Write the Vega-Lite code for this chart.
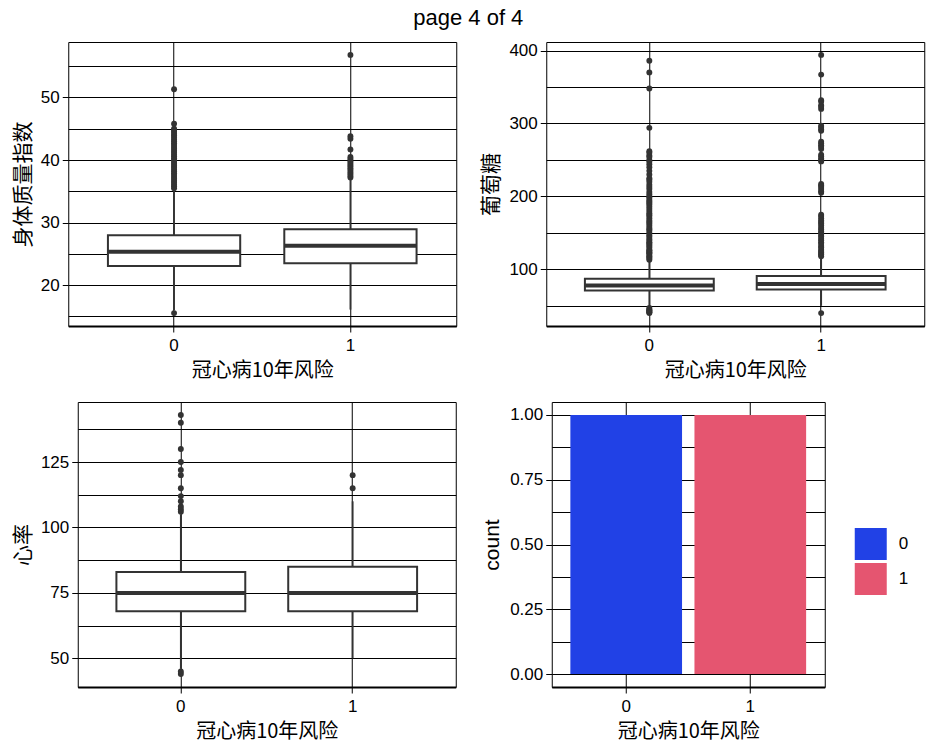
{
  "$schema": "https://vega.github.io/schema/vega-lite/v6.json",
  "background": "white",
  "padding": {"left": 11, "top": 7, "right": 5, "bottom": 5},
  "title": {"text": "page 4 of 4", "font": "Liberation Sans", "fontSize": 22, "fontWeight": "normal", "color": "black", "anchor": "middle", "offset": 11},
  "config": {
    "view": {"stroke": "black", "strokeWidth": 1},
    "axis": {"gridColor": "black", "gridWidth": 1, "gridOpacity": 1, "domain": false, "tickColor": "black", "tickSize": 6, "tickWidth": 1, "tickCount": 30, "labelColor": "black", "labelFont": "Liberation Sans", "labelFontSize": 17, "titleFont": "Noto Sans CJK SC", "titleFontSize": 21, "titleFontWeight": "normal", "titleColor": "black", "labelPadding": 3, "titlePadding": 7, "labelOverlap": false},
    "axisX": {"domain": true, "domainColor": "black", "domainWidth": 2, "labelPadding": 5, "titlePadding": 7, "titleFontSize": 20, "labelAngle": 0, "grid": true, "bandPosition": 0.5}
  },
  "datasets": {
    "bmi_stats": [
      {"risk": "0", "lower": 16.0, "q1": 23.05, "median": 25.35, "q3": 28.0, "upper": 35.4},
      {"risk": "1", "lower": 16.1, "q1": 23.5, "median": 26.3, "q3": 28.95, "upper": 37.0}
    ],
    "bmi_out": [
      {"risk": "0", "value": 15.54}, {"risk": "0", "value": 35.5}, {"risk": "0", "value": 35.8}, {"risk": "0", "value": 36.1}, {"risk": "0", "value": 36.4}, {"risk": "0", "value": 36.7}, {"risk": "0", "value": 37.0}, {"risk": "0", "value": 37.3}, {"risk": "0", "value": 37.6}, {"risk": "0", "value": 37.9}, {"risk": "0", "value": 38.2}, {"risk": "0", "value": 38.5}, {"risk": "0", "value": 38.8}, {"risk": "0", "value": 39.1}, {"risk": "0", "value": 39.4}, {"risk": "0", "value": 39.7}, {"risk": "0", "value": 40.0}, {"risk": "0", "value": 40.3}, {"risk": "0", "value": 40.6}, {"risk": "0", "value": 40.9}, {"risk": "0", "value": 41.2}, {"risk": "0", "value": 41.5}, {"risk": "0", "value": 41.8}, {"risk": "0", "value": 42.1}, {"risk": "0", "value": 42.4}, {"risk": "0", "value": 42.7}, {"risk": "0", "value": 43.0}, {"risk": "0", "value": 43.3}, {"risk": "0", "value": 43.6}, {"risk": "0", "value": 43.9}, {"risk": "0", "value": 44.2}, {"risk": "0", "value": 44.5}, {"risk": "0", "value": 44.8}, {"risk": "0", "value": 45.0}, {"risk": "0", "value": 45.8}, {"risk": "0", "value": 51.3},
      {"risk": "1", "value": 37.2}, {"risk": "1", "value": 37.5}, {"risk": "1", "value": 37.8}, {"risk": "1", "value": 38.1}, {"risk": "1", "value": 38.4}, {"risk": "1", "value": 38.7}, {"risk": "1", "value": 39.0}, {"risk": "1", "value": 39.3}, {"risk": "1", "value": 39.6}, {"risk": "1", "value": 39.9}, {"risk": "1", "value": 40.2}, {"risk": "1", "value": 40.5}, {"risk": "1", "value": 41.7}, {"risk": "1", "value": 43.4}, {"risk": "1", "value": 43.8}, {"risk": "1", "value": 56.8}
    ],
    "glu_stats": [
      {"risk": "0", "lower": 48, "q1": 71, "median": 78, "q3": 87, "upper": 111},
      {"risk": "1", "lower": 50, "q1": 72.5, "median": 80, "q3": 91, "upper": 117}
    ],
    "glu_out": [
      {"risk": "0", "value": 40}, {"risk": "0", "value": 41}, {"risk": "0", "value": 42}, {"risk": "0", "value": 43}, {"risk": "0", "value": 44}, {"risk": "0", "value": 45}, {"risk": "0", "value": 47},
      {"risk": "0", "value": 113}, {"risk": "0", "value": 115}, {"risk": "0", "value": 117}, {"risk": "0", "value": 118}, {"risk": "0", "value": 120}, {"risk": "0", "value": 122}, {"risk": "0", "value": 123}, {"risk": "0", "value": 124}, {"risk": "0", "value": 126}, {"risk": "0", "value": 127}, {"risk": "0", "value": 130}, {"risk": "0", "value": 132}, {"risk": "0", "value": 134}, {"risk": "0", "value": 136}, {"risk": "0", "value": 137}, {"risk": "0", "value": 140}, {"risk": "0", "value": 142}, {"risk": "0", "value": 145}, {"risk": "0", "value": 147}, {"risk": "0", "value": 150}, {"risk": "0", "value": 153}, {"risk": "0", "value": 155}, {"risk": "0", "value": 157}, {"risk": "0", "value": 160}, {"risk": "0", "value": 163}, {"risk": "0", "value": 165}, {"risk": "0", "value": 167}, {"risk": "0", "value": 170}, {"risk": "0", "value": 173}, {"risk": "0", "value": 175}, {"risk": "0", "value": 177}, {"risk": "0", "value": 180}, {"risk": "0", "value": 183}, {"risk": "0", "value": 186}, {"risk": "0", "value": 189}, {"risk": "0", "value": 191}, {"risk": "0", "value": 193}, {"risk": "0", "value": 195}, {"risk": "0", "value": 198}, {"risk": "0", "value": 200}, {"risk": "0", "value": 203}, {"risk": "0", "value": 206}, {"risk": "0", "value": 210}, {"risk": "0", "value": 213}, {"risk": "0", "value": 216}, {"risk": "0", "value": 220}, {"risk": "0", "value": 223}, {"risk": "0", "value": 225}, {"risk": "0", "value": 230}, {"risk": "0", "value": 235}, {"risk": "0", "value": 240}, {"risk": "0", "value": 244}, {"risk": "0", "value": 248}, {"risk": "0", "value": 250}, {"risk": "0", "value": 254}, {"risk": "0", "value": 256}, {"risk": "0", "value": 260}, {"risk": "0", "value": 262}, {"risk": "0", "value": 294}, {"risk": "0", "value": 348}, {"risk": "0", "value": 370}, {"risk": "0", "value": 386},
      {"risk": "1", "value": 40}, {"risk": "1", "value": 118}, {"risk": "1", "value": 120}, {"risk": "1", "value": 121}, {"risk": "1", "value": 123}, {"risk": "1", "value": 125}, {"risk": "1", "value": 127}, {"risk": "1", "value": 130}, {"risk": "1", "value": 132}, {"risk": "1", "value": 135}, {"risk": "1", "value": 137}, {"risk": "1", "value": 140}, {"risk": "1", "value": 142}, {"risk": "1", "value": 145}, {"risk": "1", "value": 147}, {"risk": "1", "value": 150}, {"risk": "1", "value": 152}, {"risk": "1", "value": 155}, {"risk": "1", "value": 157}, {"risk": "1", "value": 160}, {"risk": "1", "value": 163}, {"risk": "1", "value": 165}, {"risk": "1", "value": 167}, {"risk": "1", "value": 170}, {"risk": "1", "value": 173}, {"risk": "1", "value": 175}, {"risk": "1", "value": 205}, {"risk": "1", "value": 207}, {"risk": "1", "value": 210}, {"risk": "1", "value": 213}, {"risk": "1", "value": 215}, {"risk": "1", "value": 217}, {"risk": "1", "value": 248}, {"risk": "1", "value": 250}, {"risk": "1", "value": 252}, {"risk": "1", "value": 255}, {"risk": "1", "value": 257}, {"risk": "1", "value": 265}, {"risk": "1", "value": 268}, {"risk": "1", "value": 270}, {"risk": "1", "value": 273}, {"risk": "1", "value": 275}, {"risk": "1", "value": 290}, {"risk": "1", "value": 292}, {"risk": "1", "value": 295}, {"risk": "1", "value": 297}, {"risk": "1", "value": 320}, {"risk": "1", "value": 323}, {"risk": "1", "value": 325}, {"risk": "1", "value": 330}, {"risk": "1", "value": 332}, {"risk": "1", "value": 367}, {"risk": "1", "value": 394}
    ],
    "hr_stats": [
      {"risk": "0", "lower": 46, "q1": 68, "median": 75, "q3": 83, "upper": 105},
      {"risk": "1", "lower": 50, "q1": 68, "median": 75, "q3": 85, "upper": 110}
    ],
    "hr_out": [
      {"risk": "0", "value": 44}, {"risk": "0", "value": 45}, {"risk": "0", "value": 106}, {"risk": "0", "value": 107}, {"risk": "0", "value": 108}, {"risk": "0", "value": 110}, {"risk": "0", "value": 112}, {"risk": "0", "value": 115}, {"risk": "0", "value": 120}, {"risk": "0", "value": 122}, {"risk": "0", "value": 125}, {"risk": "0", "value": 130}, {"risk": "0", "value": 140}, {"risk": "0", "value": 143},
      {"risk": "1", "value": 115}, {"risk": "1", "value": 120}
    ],
    "counts": [
      {"risk": "0", "count": 1},
      {"risk": "1", "count": 1}
    ]
  },
  "spacing": 20,
  "center": true,
  "vconcat": [
    {
      "spacing": 23,
      "hconcat": [
        {
          "width": 388, "height": 284,
          "layer": [
            {
              "data": {"name": "bmi_stats"},
              "mark": {"type": "rule", "color": "#333333", "strokeWidth": 1.8},
              "encoding": {
                "x": {"field": "risk", "type": "nominal", "title": "冠心病10年风险", "scale": {"paddingInner": 0.25, "paddingOuter": 0.225}},
                "y": {"field": "lower", "type": "quantitative", "title": "身体质量指数", "scale": {"domain": [13.48, 58.86], "nice": false, "zero": false},
                  "axis": {"values": [15, 20, 25, 30, 35, 40, 45, 50, 55], "grid": true, "labelExpr": "datum.value % 10 === 0 ? datum.label : ''", "tickColor": {"condition": {"test": "datum.value % 10 === 0", "value": "black"}, "value": "transparent"}}},
                "y2": {"field": "upper"}
              }
            },
            {
              "data": {"name": "bmi_stats"},
              "mark": {"type": "bar", "fill": "white", "stroke": "#333333", "strokeWidth": 2},
              "encoding": {
                "x": {"field": "risk", "type": "nominal", "title": "冠心病10年风险"},
                "y": {"field": "q1", "type": "quantitative", "title": "身体质量指数"},
                "y2": {"field": "q3"}
              }
            },
            {
              "data": {"name": "bmi_stats"},
              "mark": {"type": "tick", "color": "#333333", "thickness": 4, "size": 132, "opacity": 1},
              "encoding": {
                "x": {"field": "risk", "type": "nominal", "title": "冠心病10年风险"},
                "y": {"field": "median", "type": "quantitative", "title": "身体质量指数"}
              }
            },
            {
              "data": {"name": "bmi_out"},
              "mark": {"type": "point", "filled": true, "color": "#333333", "size": 35, "opacity": 1},
              "encoding": {
                "x": {"field": "risk", "type": "nominal", "title": "冠心病10年风险"},
                "y": {"field": "value", "type": "quantitative", "title": "身体质量指数"}
              }
            }
          ]
        },
        {
          "width": 378, "height": 284,
          "layer": [
            {
              "data": {"name": "glu_stats"},
              "mark": {"type": "rule", "color": "#333333", "strokeWidth": 1.8},
              "encoding": {
                "x": {"field": "risk", "type": "nominal", "title": "冠心病10年风险", "scale": {"paddingInner": 0.25, "paddingOuter": 0.225}},
                "y": {"field": "lower", "type": "quantitative", "title": "葡萄糖", "scale": {"domain": [22.3, 411.7], "nice": false, "zero": false},
                  "axis": {"values": [50, 100, 150, 200, 250, 300, 350, 400], "grid": true, "labelExpr": "datum.value % 100 === 0 ? datum.label : ''", "tickColor": {"condition": {"test": "datum.value % 100 === 0", "value": "black"}, "value": "transparent"}}},
                "y2": {"field": "upper"}
              }
            },
            {
              "data": {"name": "glu_stats"},
              "mark": {"type": "bar", "fill": "white", "stroke": "#333333", "strokeWidth": 2},
              "encoding": {
                "x": {"field": "risk", "type": "nominal", "title": "冠心病10年风险"},
                "y": {"field": "q1", "type": "quantitative", "title": "葡萄糖"},
                "y2": {"field": "q3"}
              }
            },
            {
              "data": {"name": "glu_stats"},
              "mark": {"type": "tick", "color": "#333333", "thickness": 4, "size": 129, "opacity": 1},
              "encoding": {
                "x": {"field": "risk", "type": "nominal", "title": "冠心病10年风险"},
                "y": {"field": "median", "type": "quantitative", "title": "葡萄糖"}
              }
            },
            {
              "data": {"name": "glu_out"},
              "mark": {"type": "point", "filled": true, "color": "#333333", "size": 35, "opacity": 1},
              "encoding": {
                "x": {"field": "risk", "type": "nominal", "title": "冠心病10年风险"},
                "y": {"field": "value", "type": "quantitative", "title": "葡萄糖"}
              }
            }
          ]
        }
      ]
    },
    {
      "spacing": 24,
      "resolve": {"legend": {"color": "independent"}},
      "hconcat": [
        {
          "width": 378, "height": 285,
          "layer": [
            {
              "data": {"name": "hr_stats"},
              "mark": {"type": "rule", "color": "#333333", "strokeWidth": 1.8},
              "encoding": {
                "x": {"field": "risk", "type": "nominal", "title": "冠心病10年风险", "scale": {"paddingInner": 0.25, "paddingOuter": 0.225}},
                "y": {"field": "lower", "type": "quantitative", "title": "心率", "scale": {"domain": [39.05, 147.95], "nice": false, "zero": false},
                  "axis": {"values": [50, 62.5, 75, 87.5, 100, 112.5, 125, 137.5], "grid": true, "labelExpr": "datum.value % 25 === 0 ? datum.label : ''", "tickColor": {"condition": {"test": "datum.value % 25 === 0", "value": "black"}, "value": "transparent"}}},
                "y2": {"field": "upper"}
              }
            },
            {
              "data": {"name": "hr_stats"},
              "mark": {"type": "bar", "fill": "white", "stroke": "#333333", "strokeWidth": 2},
              "encoding": {
                "x": {"field": "risk", "type": "nominal", "title": "冠心病10年风险"},
                "y": {"field": "q1", "type": "quantitative", "title": "心率"},
                "y2": {"field": "q3"}
              }
            },
            {
              "data": {"name": "hr_stats"},
              "mark": {"type": "tick", "color": "#333333", "thickness": 4, "size": 129, "opacity": 1},
              "encoding": {
                "x": {"field": "risk", "type": "nominal", "title": "冠心病10年风险"},
                "y": {"field": "median", "type": "quantitative", "title": "心率"}
              }
            },
            {
              "data": {"name": "hr_out"},
              "mark": {"type": "point", "filled": true, "color": "#333333", "size": 35, "opacity": 1},
              "encoding": {
                "x": {"field": "risk", "type": "nominal", "title": "冠心病10年风险"},
                "y": {"field": "value", "type": "quantitative", "title": "心率"}
              }
            }
          ]
        },
        {
          "width": 273, "height": 285,
          "data": {"name": "counts"},
          "mark": {"type": "bar", "opacity": 1},
          "encoding": {
            "x": {"field": "risk", "type": "nominal", "title": "冠心病10年风险", "scale": {"paddingInner": 0.1, "paddingOuter": 0.15}},
            "y": {"field": "count", "type": "quantitative", "title": "count", "scale": {"domain": [-0.05, 1.05], "nice": false, "zero": false},
              "axis": {"titleFont": "Liberation Sans", "values": [0, 0.125, 0.25, 0.375, 0.5, 0.625, 0.75, 0.875, 1], "grid": true,
                "labelExpr": "abs(datum.value * 4 - round(datum.value * 4)) < 0.001 ? format(datum.value, '.2f') : ''",
                "tickColor": {"condition": {"test": "abs(datum.value * 4 - round(datum.value * 4)) < 0.001", "value": "black"}, "value": "transparent"}}},
            "y2": {"datum": 0},
            "color": {"field": "risk", "type": "nominal", "scale": {"range": ["#2141E6", "#E55570"]},
              "legend": {"title": null, "orient": "none", "legendX": 297, "legendY": 120, "padding": 6, "symbolType": "square", "symbolSize": 1024, "symbolStrokeWidth": 0, "symbolOpacity": 1, "labelFont": "Liberation Sans", "labelFontSize": 17, "labelColor": "black", "labelOffset": 12, "rowPadding": 3}}
          }
        }
      ]
    }
  ]
}
